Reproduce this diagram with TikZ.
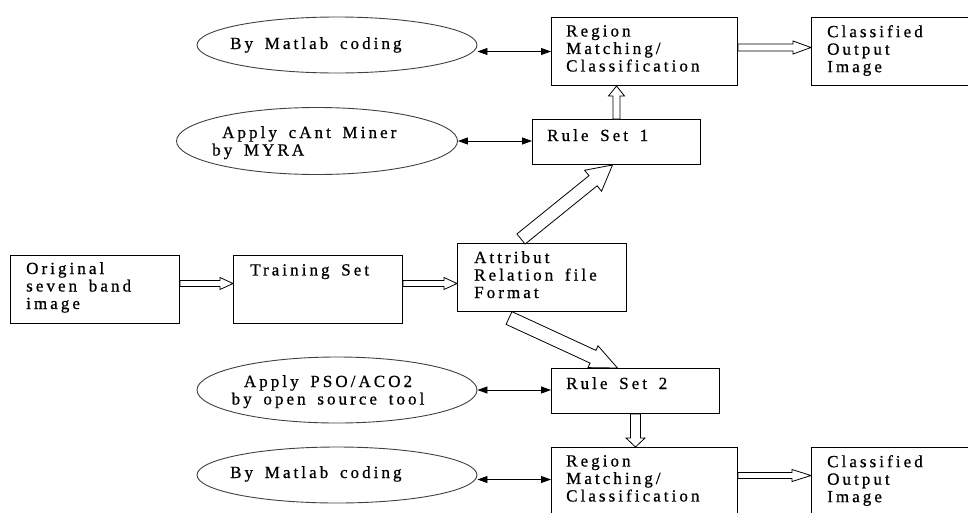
\documentclass[tikz,border=0pt]{standalone}
\usepackage{fontspec}
\setmainfont[LetterSpace=18,FakeBold=0.8,WordSpace=1.6]{Liberation Serif}
\usetikzlibrary{shapes.geometric,arrows.meta,calc}

% hollow block arrow: from, to, half shaft, half head, head length
\newcommand{\fatarrow}[5]{%
  \coordinate (fa) at ($(#2)!#5!(#1)$);
  \draw[fat] ($(#1)!#3!90:(#2)$) -- ($(fa)!#3!90:(#2)$) -- ($(fa)!#4!90:(#2)$) -- (#2)
    -- ($(fa)!#4!-90:(#2)$) -- ($(fa)!#3!-90:(#2)$) -- ($(#1)!#3!-90:(#2)$) -- cycle;
}

\begin{document}
\begin{tikzpicture}[x=1pt, y=-1pt,
    box/.style={draw, line width=1pt, rectangle, anchor=north west, inner sep=0pt},
    oval/.style={draw=black!75, line width=0.9pt, ellipse, inner sep=0pt},
    txt/.style={anchor=north west, inner sep=0pt, align=left, font=\fontsize{17}{17.5}\selectfont},
    fat/.style={draw, fill=white, line width=0.8pt, line join=miter},
    link/.style={line width=0.8pt, {Triangle[length=10pt,width=7pt]}-{Triangle[length=10pt,width=7pt]}}]
        \useasboundingbox (0,0) rectangle (968,512);
        % boxes
        \node[box, minimum width=169, minimum height=68] (orig) at (10,255) {};
        \node[box, minimum width=169, minimum height=68] (train) at (233,255) {};
        \node[box, minimum width=169, minimum height=68] (arff) at (457,243) {};
        \node[box, minimum width=168, minimum height=45] (rs1) at (532,119) {};
        \node[box, minimum width=186, minimum height=68] (rm1) at (551,17) {};
        \node[box, minimum width=157, minimum height=68] (out1) at (811,17) {};
        \node[box, minimum width=168, minimum height=45] (rs2) at (551,368) {};
        \node[box, minimum width=186, minimum height=68] (rm2) at (551,447) {};
        \node[box, minimum width=157, minimum height=68] (out2) at (811,447) {};
        % ovals
        \node[oval, minimum width=280, minimum height=56] (mat1) at (337,45) {};
        \node[oval, minimum width=281, minimum height=67] (myra) at (317,141) {};
        \node[oval, minimum width=280, minimum height=66] (pso) at (337,390) {};
        \node[oval, minimum width=280, minimum height=56] (mat2) at (337,475) {};
        % texts
        \node[txt] (orig-t) at (26,262) {Original\\seven band\\image};
        \node[txt] (train-t) at (250,264) {Training Set};
        \node[txt] (arff-t) at (474,251) {Attribut\\Relation file\\Format};
        \node[txt] (rs1-t) at (547,129) {Rule Set 1};
        \node[txt] (rm1-t) at (566,25) {Region\\Matching/\\Classification};
        \node[txt] (out1-t) at (827,25) {Classified\\Output\\Image};
        \node[txt] (rs2-t) at (566,377) {Rule Set 2};
        \node[txt] (rm2-t) at (566,455) {Region\\Matching/\\Classification};
        \node[txt] (out2-t) at (827,455) {Classified\\Output\\Image};
        \node[txt] (mat1-t) at (230,37) {By Matlab coding};
        \node[txt] (myra-t) at (212,126) {\hspace{10pt}Apply cAnt Miner\\by MYRA};
        \node[txt, anchor=north, align=center] (pso-t) at (328,375) {Apply PSO/ACO2\\by open source tool};
        \node[txt] (mat2-t) at (230,466) {By Matlab coding};
        % two-way links
        \draw[link] (mat1.east |- rm1.west) -- (rm1.west);
        \draw[link] (myra.east) -- (myra.east -| rs1.west);
        \draw[link] (pso.east) -- (pso.east -| rs2.west);
        \draw[link] ([yshift=2pt]mat2.east |- rm2.west) -- ([yshift=2pt]rm2.west);
        % block arrows
        \coordinate (a1) at ([yshift=6pt]orig.east);
        \coordinate (b1) at (a1 -| train.west);
        \coordinate (a2) at (a1 -| train.east);
        \coordinate (b2) at (a1 -| arff.west);
        \coordinate (a3) at (rs1.north);
        \coordinate (b3) at (rs1.north |- rm1.south);
        \coordinate (a4) at ([yshift=4pt]rm1.east);
        \coordinate (b4) at (a4 -| out1.west);
        \coordinate (a5) at (521,239);
        \coordinate (b5) at ([xshift=-4pt]rs1.south);
        \coordinate (a6) at (509,318);
        \coordinate (b6) at ([xshift=-18pt]rs2.north);
        \coordinate (a7) at (rs2.south);
        \coordinate (b7) at (rs2.south |- rm2.north);
        \coordinate (a8) at ([yshift=6pt]rm2.east);
        \coordinate (b8) at (a8 -| out2.west);
        \fatarrow{a1}{b1}{3pt}{6pt}{13pt}
        \fatarrow{a2}{b2}{3pt}{6pt}{13pt}
        \fatarrow{a3}{b3}{3.5pt}{8pt}{10pt}
        \fatarrow{a4}{b4}{3.5pt}{6.5pt}{18pt}
        \fatarrow{a5}{b5}{6.5pt}{13.5pt}{25pt}
        \fatarrow{a6}{b6}{7pt}{12pt}{27pt}
        \fatarrow{a7}{b7}{5pt}{9.5pt}{9pt}
        \fatarrow{a8}{b8}{3pt}{6pt}{19pt}
    \end{tikzpicture}
\end{document}
